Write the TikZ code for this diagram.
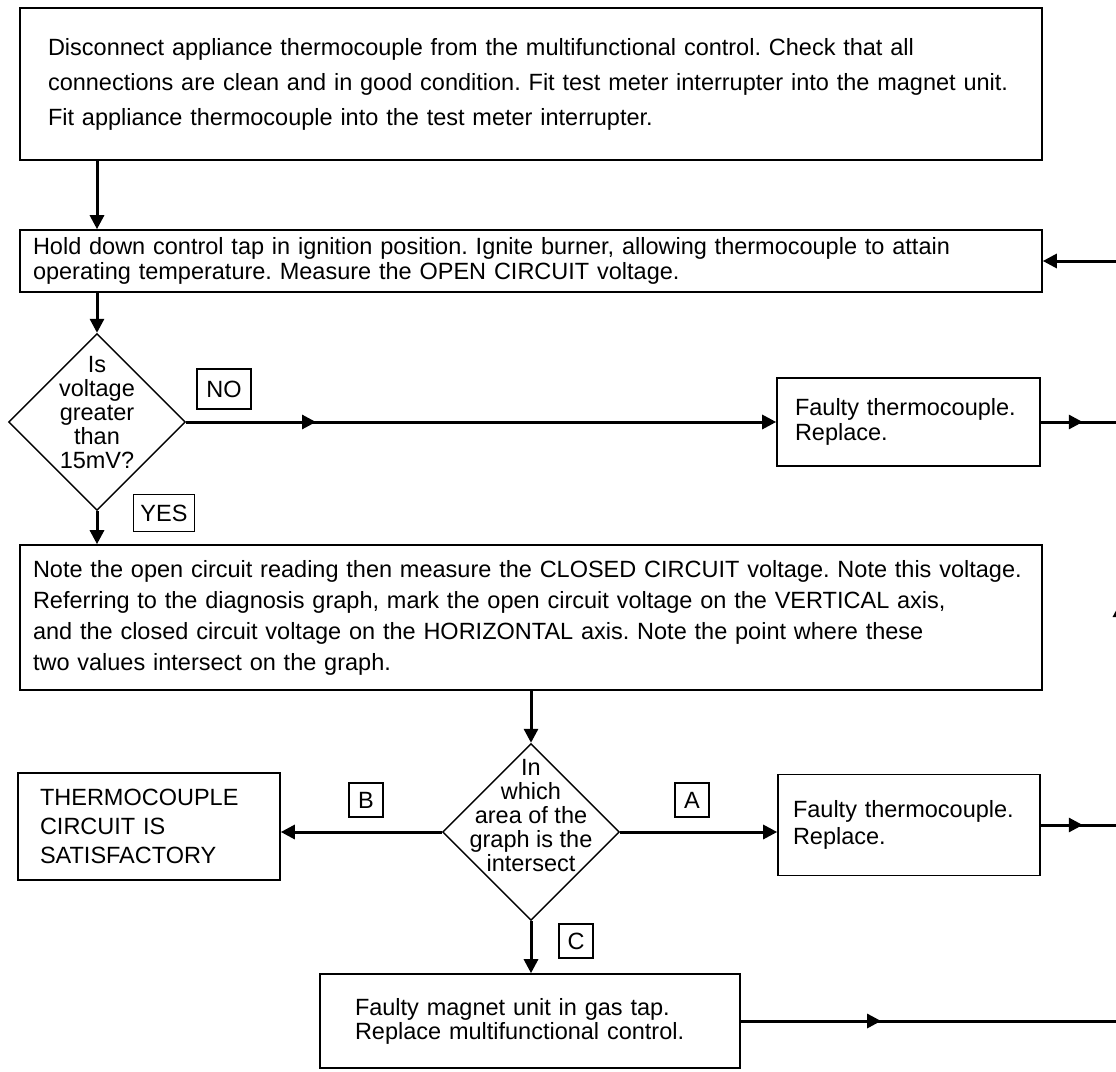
\documentclass[tikz,border=0pt]{standalone}
\usepackage{fontspec}
\setmainfont{Liberation Sans}
\frenchspacing
\usetikzlibrary{arrows.meta,positioning,shapes.geometric,decorations.markings}
\tikzset{
  txt/.style={font=\fontsize{23.5}{#1}\selectfont},
  box/.style={draw=black,line width=1.6pt,align=left,inner ysep=0pt,anchor=center},
  dia/.style={draw=black,line width=1.4pt,diamond,aspect=1,minimum width=177pt,minimum height=177pt,inner sep=0pt},
  dtxt/.style={align=center,inner sep=0pt,txt=24},
  lbox/.style={draw=black,line width=1.3pt,inner sep=0pt,minimum height=34pt,minimum width=34pt,txt=24},
  flow/.style={line width=3pt,-{Triangle[length=14pt,width=14pt]}},
  line/.style={line width=3pt},
  marr/.style={postaction={decorate},decoration={markings,mark=at position #1 with {\arrow{Triangle[length=14pt,width=14pt]}}}},
}
\begin{document}
\begin{tikzpicture}[x=1pt,y=-1pt]
\useasboundingbox (0,0) rectangle (1116,1071);
% steps
\node[box,minimum width=1022pt,minimum height=152pt,text width=966pt,inner xsep=28pt,txt=35] (s1) at (531,84)
  {Disconnect appliance thermocouple from the multifunctional control. Check that all\\connections are clean and in good condition. Fit test meter interrupter into the magnet unit.\\Fit appliance thermocouple into the test meter interrupter.};
\node[box,minimum width=1022pt,minimum height=62pt,text width=996pt,inner xsep=13pt,txt=25] (s2) at (531,261)
  {Hold down control tap in ignition position. Ignite burner, allowing thermocouple to attain\\operating temperature. Measure the OPEN CIRCUIT voltage.};
\node[dia] (q1) at (97,422) {};
\node[dtxt] (q1t) at (97,413) {Is\\voltage\\greater\\than\\15mV?};
\node[box,minimum width=263pt,minimum height=88pt,text width=227pt,inner xsep=18pt,txt=25] (f1) at (908.5,422)
  {Faulty thermocouple.\\Replace.};
\node[box,minimum width=1022pt,minimum height=145pt,text width=996pt,inner xsep=13pt,txt=31] (s4) at (531,617.5)
  {Note the open circuit reading then measure the CLOSED CIRCUIT voltage. Note this voltage.\\Referring to the diagnosis graph, mark the open circuit voltage on the VERTICAL axis,\\and the closed circuit voltage on the HORIZONTAL axis. Note the point where these\\two values intersect on the graph.};
\node[dia] (q2) at (531,832) {};
\node[dtxt] (q2t) at (531,816) {In\\which\\area of the\\graph is the\\intersect};
\node[box,minimum width=262pt,minimum height=101pt,text width=232pt,inner xsep=15pt,txt=27] (f2) at (909,825)
  {Faulty thermocouple.\\Replace.};
\node[box,minimum width=262pt,minimum height=107pt,text width=218pt,inner xsep=22pt,txt=29] (ok) at (149,826.5)
  {THERMOCOUPLE\\CIRCUIT IS\\SATISFACTORY};
\node[box,minimum width=420pt,minimum height=94pt,text width=350pt,inner xsep=35pt,txt=24] (mg) at (530,1021)
  {Faulty magnet unit in gas tap.\\Replace multifunctional control.};
% answer tags
\node[lbox,minimum width=54pt,minimum height=40pt] (no) at (224,389) {NO};
\node[lbox,minimum width=61pt,minimum height=37pt] (yes) at (164,513) {YES};
\node[lbox] (ta) at (692,800) {A};
\node[lbox] (tb) at (366,800) {B};
\node[lbox] (tc) at (576,941) {C};
% return line, just past the right edge
\coordinate (r1) at (1120,422);
\coordinate (r2) at (1120,825);
\coordinate (r3) at (1120,1021);
\coordinate (rt) at (1120,261);
% connectors
\draw[flow] (s1.south -| q1) -- (s2.north -| q1);
\draw[flow] (s2.south -| q1) -- (q1.north);
\draw[flow,marr=0.22] (q1.east) -- (f1.west);
\draw[flow] (q1.south) -- (s4.north -| q1);
\draw[flow] (s4.south -| q2) -- (q2.north);
\draw[flow] (q2.east) -- (q2.east -| f2.west);
\draw[flow] (q2.west) -- (q2.west -| ok.east);
\draw[flow] (q2.south) -- (mg.north -| q2);
\draw[line,marr=0.53] (f1.east) -- (r1);
\draw[line,marr=0.53] (f2.east) -- (r2);
\draw[line,marr=0.37] (mg.east) -- (r3);
\draw[line,marr=0.55] (r3) -- (rt);
\draw[flow] (rt) -- (s2.east);
\end{tikzpicture}
\end{document}
